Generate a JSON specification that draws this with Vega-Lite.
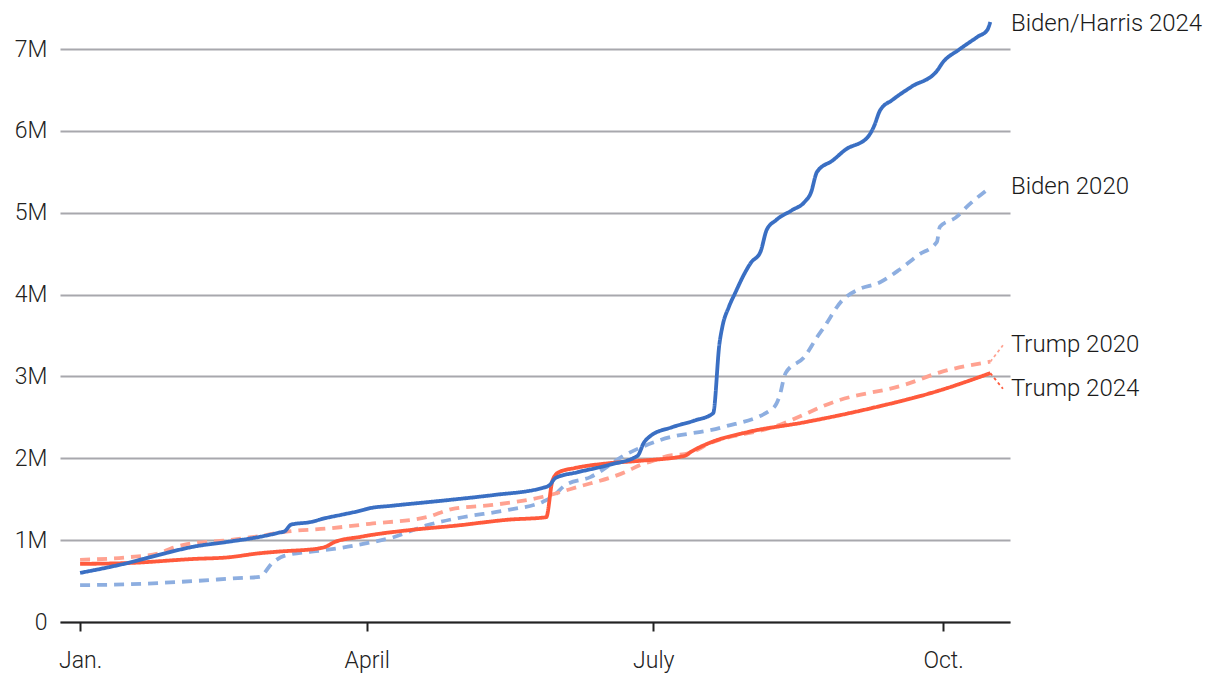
{
  "$schema": "https://vega.github.io/schema/vega-lite/v6.json",
  "width": 950,
  "height": 573,
  "autosize": {"type": "none"},
  "padding": {"left": 60, "top": 49, "right": 210, "bottom": 72},
  "background": "white",
  "config": {
    "view": {"stroke": null},
    "font": "Roboto",
    "axis": {"labelFont": "Roboto", "labelFontSize": 22, "labelColor": "#222222", "labelFontWeight": 300}
  },
  "datasets": {
    "donors": [
      {"series": "Biden 2020", "date": "2024-01-01", "donors": 450000},
      {"series": "Biden 2020", "date": "2024-01-16", "donors": 460000},
      {"series": "Biden 2020", "date": "2024-02-06", "donors": 500000},
      {"series": "Biden 2020", "date": "2024-02-22", "donors": 540000},
      {"series": "Biden 2020", "date": "2024-02-27", "donors": 550000},
      {"series": "Biden 2020", "date": "2024-03-02", "donors": 720000},
      {"series": "Biden 2020", "date": "2024-03-06", "donors": 810000},
      {"series": "Biden 2020", "date": "2024-03-19", "donors": 880000},
      {"series": "Biden 2020", "date": "2024-03-26", "donors": 920000},
      {"series": "Biden 2020", "date": "2024-04-02", "donors": 970000},
      {"series": "Biden 2020", "date": "2024-04-09", "donors": 1030000},
      {"series": "Biden 2020", "date": "2024-04-20", "donors": 1180000},
      {"series": "Biden 2020", "date": "2024-04-30", "donors": 1270000},
      {"series": "Biden 2020", "date": "2024-05-16", "donors": 1370000},
      {"series": "Biden 2020", "date": "2024-05-27", "donors": 1470000},
      {"series": "Biden 2020", "date": "2024-05-30", "donors": 1530000},
      {"series": "Biden 2020", "date": "2024-06-03", "donors": 1670000},
      {"series": "Biden 2020", "date": "2024-06-11", "donors": 1770000},
      {"series": "Biden 2020", "date": "2024-06-22", "donors": 2040000},
      {"series": "Biden 2020", "date": "2024-07-03", "donors": 2220000},
      {"series": "Biden 2020", "date": "2024-07-23", "donors": 2380000},
      {"series": "Biden 2020", "date": "2024-08-08", "donors": 2610000},
      {"series": "Biden 2020", "date": "2024-08-10", "donors": 2750000},
      {"series": "Biden 2020", "date": "2024-08-12", "donors": 3040000},
      {"series": "Biden 2020", "date": "2024-08-18", "donors": 3240000},
      {"series": "Biden 2020", "date": "2024-08-22", "donors": 3480000},
      {"series": "Biden 2020", "date": "2024-08-24", "donors": 3590000},
      {"series": "Biden 2020", "date": "2024-08-30", "donors": 3930000},
      {"series": "Biden 2020", "date": "2024-09-04", "donors": 4060000},
      {"series": "Biden 2020", "date": "2024-09-11", "donors": 4150000},
      {"series": "Biden 2020", "date": "2024-09-17", "donors": 4300000},
      {"series": "Biden 2020", "date": "2024-09-23", "donors": 4480000},
      {"series": "Biden 2020", "date": "2024-09-29", "donors": 4640000},
      {"series": "Biden 2020", "date": "2024-09-30", "donors": 4830000},
      {"series": "Biden 2020", "date": "2024-10-05", "donors": 4940000},
      {"series": "Biden 2020", "date": "2024-10-09", "donors": 5090000},
      {"series": "Biden 2020", "date": "2024-10-15", "donors": 5280000},

      {"series": "Trump 2020", "date": "2024-01-01", "donors": 760000},
      {"series": "Trump 2020", "date": "2024-01-16", "donors": 790000},
      {"series": "Trump 2020", "date": "2024-01-26", "donors": 840000},
      {"series": "Trump 2020", "date": "2024-01-30", "donors": 900000},
      {"series": "Trump 2020", "date": "2024-02-04", "donors": 950000},
      {"series": "Trump 2020", "date": "2024-02-17", "donors": 1000000},
      {"series": "Trump 2020", "date": "2024-02-27", "donors": 1050000},
      {"series": "Trump 2020", "date": "2024-03-04", "donors": 1090000},
      {"series": "Trump 2020", "date": "2024-03-08", "donors": 1110000},
      {"series": "Trump 2020", "date": "2024-03-19", "donors": 1140000},
      {"series": "Trump 2020", "date": "2024-04-02", "donors": 1200000},
      {"series": "Trump 2020", "date": "2024-04-20", "donors": 1280000},
      {"series": "Trump 2020", "date": "2024-04-28", "donors": 1380000},
      {"series": "Trump 2020", "date": "2024-05-11", "donors": 1430000},
      {"series": "Trump 2020", "date": "2024-05-27", "donors": 1530000},
      {"series": "Trump 2020", "date": "2024-06-07", "donors": 1650000},
      {"series": "Trump 2020", "date": "2024-06-22", "donors": 1830000},
      {"series": "Trump 2020", "date": "2024-06-27", "donors": 1920000},
      {"series": "Trump 2020", "date": "2024-07-01", "donors": 1970000},
      {"series": "Trump 2020", "date": "2024-07-07", "donors": 2040000},
      {"series": "Trump 2020", "date": "2024-07-11", "donors": 2050000},
      {"series": "Trump 2020", "date": "2024-07-20", "donors": 2200000},
      {"series": "Trump 2020", "date": "2024-08-08", "donors": 2380000},
      {"series": "Trump 2020", "date": "2024-08-29", "donors": 2710000},
      {"series": "Trump 2020", "date": "2024-09-19", "donors": 2900000},
      {"series": "Trump 2020", "date": "2024-09-30", "donors": 3050000},
      {"series": "Trump 2020", "date": "2024-10-16", "donors": 3180000},

      {"series": "Trump 2024", "date": "2024-01-01", "donors": 710000},
      {"series": "Trump 2024", "date": "2024-01-16", "donors": 720000},
      {"series": "Trump 2024", "date": "2024-02-06", "donors": 770000},
      {"series": "Trump 2024", "date": "2024-02-17", "donors": 790000},
      {"series": "Trump 2024", "date": "2024-02-27", "donors": 840000},
      {"series": "Trump 2024", "date": "2024-03-04", "donors": 860000},
      {"series": "Trump 2024", "date": "2024-03-17", "donors": 900000},
      {"series": "Trump 2024", "date": "2024-03-19", "donors": 920000},
      {"series": "Trump 2024", "date": "2024-03-22", "donors": 980000},
      {"series": "Trump 2024", "date": "2024-03-30", "donors": 1040000},
      {"series": "Trump 2024", "date": "2024-04-02", "donors": 1060000},
      {"series": "Trump 2024", "date": "2024-04-14", "donors": 1120000},
      {"series": "Trump 2024", "date": "2024-04-30", "donors": 1180000},
      {"series": "Trump 2024", "date": "2024-05-16", "donors": 1250000},
      {"series": "Trump 2024", "date": "2024-05-28", "donors": 1280000},
      {"series": "Trump 2024", "date": "2024-05-30", "donors": 1730000},
      {"series": "Trump 2024", "date": "2024-06-01", "donors": 1830000},
      {"series": "Trump 2024", "date": "2024-06-06", "donors": 1880000},
      {"series": "Trump 2024", "date": "2024-06-17", "donors": 1940000},
      {"series": "Trump 2024", "date": "2024-06-27", "donors": 1970000},
      {"series": "Trump 2024", "date": "2024-07-11", "donors": 2030000},
      {"series": "Trump 2024", "date": "2024-07-13", "donors": 2080000},
      {"series": "Trump 2024", "date": "2024-07-19", "donors": 2190000},
      {"series": "Trump 2024", "date": "2024-07-31", "donors": 2320000},
      {"series": "Trump 2024", "date": "2024-08-18", "donors": 2440000},
      {"series": "Trump 2024", "date": "2024-09-08", "donors": 2610000},
      {"series": "Trump 2024", "date": "2024-09-30", "donors": 2830000},
      {"series": "Trump 2024", "date": "2024-10-16", "donors": 3040000},

      {"series": "Biden/Harris 2024", "date": "2024-01-01", "donors": 600000},
      {"series": "Biden/Harris 2024", "date": "2024-01-16", "donors": 720000},
      {"series": "Biden/Harris 2024", "date": "2024-01-26", "donors": 820000},
      {"series": "Biden/Harris 2024", "date": "2024-02-06", "donors": 920000},
      {"series": "Biden/Harris 2024", "date": "2024-02-17", "donors": 980000},
      {"series": "Biden/Harris 2024", "date": "2024-02-27", "donors": 1040000},
      {"series": "Biden/Harris 2024", "date": "2024-03-04", "donors": 1090000},
      {"series": "Biden/Harris 2024", "date": "2024-03-06", "donors": 1110000},
      {"series": "Biden/Harris 2024", "date": "2024-03-08", "donors": 1190000},
      {"series": "Biden/Harris 2024", "date": "2024-03-14", "donors": 1220000},
      {"series": "Biden/Harris 2024", "date": "2024-03-19", "donors": 1270000},
      {"series": "Biden/Harris 2024", "date": "2024-03-24", "donors": 1310000},
      {"series": "Biden/Harris 2024", "date": "2024-03-30", "donors": 1360000},
      {"series": "Biden/Harris 2024", "date": "2024-04-02", "donors": 1390000},
      {"series": "Biden/Harris 2024", "date": "2024-04-09", "donors": 1420000},
      {"series": "Biden/Harris 2024", "date": "2024-04-27", "donors": 1490000},
      {"series": "Biden/Harris 2024", "date": "2024-05-11", "donors": 1550000},
      {"series": "Biden/Harris 2024", "date": "2024-05-27", "donors": 1640000},
      {"series": "Biden/Harris 2024", "date": "2024-05-29", "donors": 1670000},
      {"series": "Biden/Harris 2024", "date": "2024-05-31", "donors": 1760000},
      {"series": "Biden/Harris 2024", "date": "2024-06-07", "donors": 1830000},
      {"series": "Biden/Harris 2024", "date": "2024-06-17", "donors": 1920000},
      {"series": "Biden/Harris 2024", "date": "2024-06-26", "donors": 2030000},
      {"series": "Biden/Harris 2024", "date": "2024-06-28", "donors": 2190000},
      {"series": "Biden/Harris 2024", "date": "2024-06-30", "donors": 2270000},
      {"series": "Biden/Harris 2024", "date": "2024-07-07", "donors": 2380000},
      {"series": "Biden/Harris 2024", "date": "2024-07-14", "donors": 2460000},
      {"series": "Biden/Harris 2024", "date": "2024-07-20", "donors": 2550000},
      {"series": "Biden/Harris 2024", "date": "2024-07-22", "donors": 3400000},
      {"series": "Biden/Harris 2024", "date": "2024-07-23", "donors": 3620000},
      {"series": "Biden/Harris 2024", "date": "2024-07-25", "donors": 3850000},
      {"series": "Biden/Harris 2024", "date": "2024-07-27", "donors": 4020000},
      {"series": "Biden/Harris 2024", "date": "2024-07-30", "donors": 4260000},
      {"series": "Biden/Harris 2024", "date": "2024-08-01", "donors": 4390000},
      {"series": "Biden/Harris 2024", "date": "2024-08-04", "donors": 4520000},
      {"series": "Biden/Harris 2024", "date": "2024-08-06", "donors": 4790000},
      {"series": "Biden/Harris 2024", "date": "2024-08-09", "donors": 4910000},
      {"series": "Biden/Harris 2024", "date": "2024-08-14", "donors": 5030000},
      {"series": "Biden/Harris 2024", "date": "2024-08-18", "donors": 5130000},
      {"series": "Biden/Harris 2024", "date": "2024-08-20", "donors": 5240000},
      {"series": "Biden/Harris 2024", "date": "2024-08-22", "donors": 5500000},
      {"series": "Biden/Harris 2024", "date": "2024-08-27", "donors": 5640000},
      {"series": "Biden/Harris 2024", "date": "2024-08-31", "donors": 5770000},
      {"series": "Biden/Harris 2024", "date": "2024-09-07", "donors": 5920000},
      {"series": "Biden/Harris 2024", "date": "2024-09-09", "donors": 6050000},
      {"series": "Biden/Harris 2024", "date": "2024-09-11", "donors": 6250000},
      {"series": "Biden/Harris 2024", "date": "2024-09-15", "donors": 6380000},
      {"series": "Biden/Harris 2024", "date": "2024-09-21", "donors": 6540000},
      {"series": "Biden/Harris 2024", "date": "2024-09-29", "donors": 6730000},
      {"series": "Biden/Harris 2024", "date": "2024-10-01", "donors": 6840000},
      {"series": "Biden/Harris 2024", "date": "2024-10-06", "donors": 6990000},
      {"series": "Biden/Harris 2024", "date": "2024-10-12", "donors": 7150000},
      {"series": "Biden/Harris 2024", "date": "2024-10-15", "donors": 7230000},
      {"series": "Biden/Harris 2024", "date": "2024-10-16", "donors": 7330000}
    ],
    "leaders": [
      {"series": "Trump 2020", "date": "2024-10-16", "donors": 3180000},
      {"series": "Trump 2020", "date": "2024-10-20", "donors": 3380000},
      {"series": "Trump 2024", "date": "2024-10-16", "donors": 3040000},
      {"series": "Trump 2024", "date": "2024-10-20", "donors": 2850000}
    ],
    "labels": [
      {"series": "Biden/Harris 2024", "date": "2024-10-20", "donors": 7300000},
      {"series": "Biden 2020", "date": "2024-10-20", "donors": 5310000},
      {"series": "Trump 2020", "date": "2024-10-20", "donors": 3380000},
      {"series": "Trump 2024", "date": "2024-10-20", "donors": 2845000}
    ]
  },
  "encoding": {
    "x": {
      "field": "date",
      "type": "temporal",
      "title": null,
      "scale": {
        "type": "utc",
        "domain": [
          {"year": 2023, "month": 12, "date": 25, "hours": 15, "utc": true},
          {"year": 2024, "month": 10, "date": 22, "hours": 6, "utc": true}
        ]
      },
      "axis": {
        "values": [
          {"year": 2024, "month": 1, "date": 1, "utc": true},
          {"year": 2024, "month": 4, "date": 1, "utc": true},
          {"year": 2024, "month": 7, "date": 1, "utc": true},
          {"year": 2024, "month": 10, "date": 1, "utc": true}
        ],
        "labelExpr": "utcmonth(datum.value) == 0 ? 'Jan.' : utcmonth(datum.value) == 3 ? 'April' : utcmonth(datum.value) == 6 ? 'July' : 'Oct.'",
        "grid": false,
        "domainColor": "#222222",
        "domainWidth": 2,
        "tickColor": "#222222",
        "tickWidth": 2,
        "tickSize": 9,
        "labelPadding": 18,
        "labelFontSize": 23,
        "labelFlush": false
      }
    },
    "y": {
      "field": "donors",
      "type": "quantitative",
      "title": null,
      "scale": {"domain": [0, 7000000], "nice": false},
      "axis": {
        "values": [0, 1000000, 2000000, 3000000, 4000000, 5000000, 6000000, 7000000],
        "labelExpr": "datum.value == 0 ? '0' : (datum.value / 1000000) + 'M'",
        "domain": false,
        "ticks": false,
        "grid": true,
        "gridColor": "#a8a8ad",
        "gridWidth": 2,
        "labelPadding": 13,
        "labelFontSize": 23
      }
    }
  },
  "layer": [
    {
      "data": {"name": "donors"},
      "mark": {"type": "line", "strokeWidth": 3.8, "interpolate": "monotone"},
      "encoding": {
        "color": {
          "field": "series",
          "type": "nominal",
          "legend": null,
          "scale": {
            "domain": ["Biden 2020", "Trump 2020", "Trump 2024", "Biden/Harris 2024"],
            "range": ["#8daee0", "#ffa291", "#ff5a3c", "#3a6fc3"]
          }
        },
        "strokeDash": {
          "field": "series",
          "type": "nominal",
          "legend": null,
          "scale": {
            "domain": ["Biden 2020", "Trump 2020", "Trump 2024", "Biden/Harris 2024"],
            "range": [[10, 7], [10, 7], [1, 0], [1, 0]]
          }
        },
        "detail": {"field": "series"}
      }
    },
    {
      "data": {"name": "leaders"},
      "mark": {"type": "line", "strokeWidth": 1.8, "strokeDash": [3, 3]},
      "encoding": {
        "color": {"field": "series", "type": "nominal", "legend": null},
        "detail": {"field": "series"}
      }
    },
    {
      "data": {"name": "labels"},
      "mark": {
        "type": "text",
        "align": "left",
        "baseline": "middle",
        "dx": 8,
        "font": "Roboto",
        "fontSize": 24,
        "fontWeight": 300,
        "color": "#1a1a1a"
      },
      "encoding": {
        "text": {"field": "series"}
      }
    }
  ]
}
